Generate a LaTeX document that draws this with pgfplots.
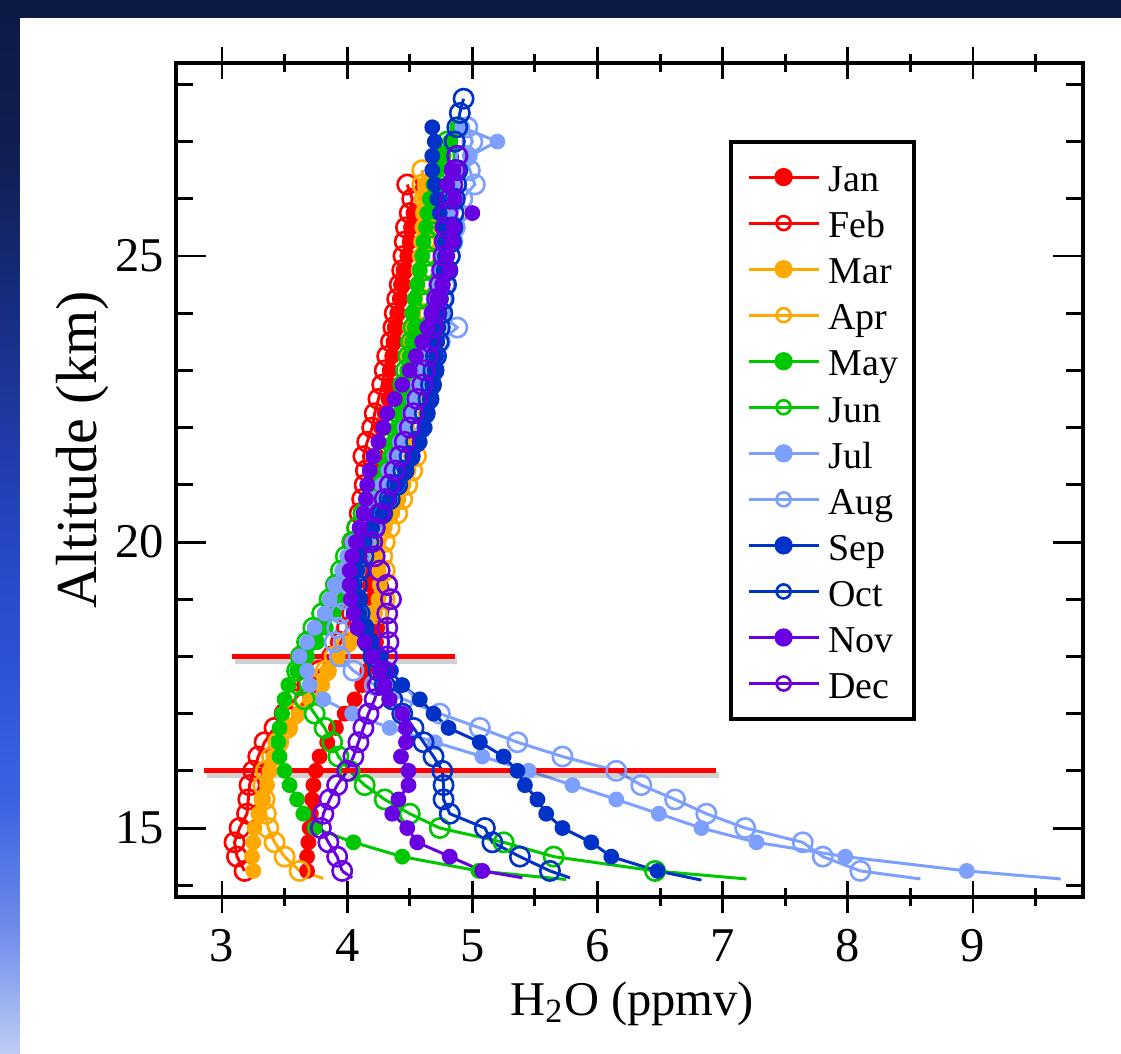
\documentclass[border=0pt]{standalone}
\usepackage{pgfplots}
\pgfplotsset{compat=1.18}
\usepackage{pgfplotstable}
\usepackage{fontspec}
\setmainfont{Liberation Serif}

\definecolor{cJan}{RGB}{255,0,0}
\definecolor{cMar}{RGB}{255,168,0}
\definecolor{cMay}{RGB}{0,200,0}
\definecolor{cJul}{RGB}{125,160,255}
\definecolor{cSep}{RGB}{0,50,200}
\definecolor{cNov}{RGB}{105,0,225}
\definecolor{navy}{RGB}{14,26,70}
\definecolor{bA}{RGB}{16,30,80}
\definecolor{bB}{RGB}{22,42,120}
\definecolor{bC}{RGB}{30,56,160}
\definecolor{bD}{RGB}{38,70,195}
\definecolor{bE}{RGB}{46,82,215}
\definecolor{bF}{RGB}{60,98,228}
\definecolor{bG}{RGB}{110,140,235}
\definecolor{bH}{RGB}{190,205,244}

\pgfplotstableread{
alt   jan  feb  mar  apr  may  jun  jul  aug  sep  oct  nov  dec
14.25 3.68 3.18 3.25 3.62 5.05 6.46 8.95 8.10 6.48 5.62 5.08 3.96
14.50 3.68 3.12 3.24 3.50 4.44 5.65 7.98 7.80 6.11 5.38 4.82 3.92
14.75 3.69 3.10 3.25 3.42 4.05 5.25 7.27 7.64 5.95 5.16 4.56 3.85
15.00 3.70 3.14 3.26 3.37 3.74 4.74 6.83 7.18 5.72 5.10 4.48 3.79
15.25 3.71 3.20 3.29 3.35 3.65 4.50 6.49 6.87 5.59 4.82 4.36 3.81
15.50 3.72 3.21 3.33 3.34 3.60 4.30 6.15 6.62 5.52 4.77 4.41 3.86
15.75 3.73 3.22 3.36 3.33 3.54 4.14 5.80 6.35 5.42 4.77 4.49 3.92
16.00 3.75 3.25 3.38 3.35 3.50 4.02 5.45 6.15 5.36 4.76 4.49 4.00
16.25 3.78 3.29 3.41 3.40 3.46 3.93 5.08 5.72 5.25 4.69 4.43 4.05
16.50 3.84 3.34 3.46 3.45 3.45 3.88 4.70 5.36 5.06 4.61 4.47 4.09
16.75 3.91 3.42 3.54 3.52 3.46 3.82 4.34 5.06 4.81 4.53 4.47 4.13
17.00 3.98 3.50 3.61 3.58 3.48 3.74 4.04 4.74 4.69 4.44 4.44 4.17
17.25 4.06 3.58 3.70 3.66 3.50 3.66 3.81 4.45 4.58 4.36 4.34 4.22
17.50 4.12 3.68 3.80 3.75 3.53 3.62 3.70 4.22 4.44 4.30 4.30 4.25
17.75 4.16 3.78 3.84 3.83 3.60 3.60 3.68 4.05 4.35 4.25 4.26 4.29
18.00 4.20 3.88 3.92 3.90 3.68 3.63 3.62 3.94 4.27 4.21 4.20 4.32
18.25 4.23 3.95 4.02 4.00 3.76 3.68 3.68 3.90 4.20 4.17 4.14 4.33
18.50 4.24 4.00 4.14 4.12 3.83 3.73 3.74 3.92 4.14 4.13 4.08 4.32
18.75 4.22 4.04 4.22 4.24 3.89 3.80 3.82 3.95 4.10 4.10 4.05 4.32
19.00 4.20 4.06 4.25 4.30 3.93 3.86 3.86 3.98 4.08 4.08 4.03 4.35
19.25 4.18 4.07 4.26 4.32 3.96 3.91 3.90 4.02 4.06 4.08 4.02 4.32
19.50 4.16 4.06 4.25 4.30 3.98 3.95 3.96 4.06 4.08 4.10 4.02 4.26
19.75 4.14 4.05 4.22 4.28 4.02 3.99 4.00 4.10 4.10 4.13 4.04 4.22
20.00 4.13 4.06 4.24 4.30 4.06 4.04 4.04 4.14 4.14 4.17 4.07 4.20
20.25 4.14 4.08 4.30 4.34 4.10 4.08 4.10 4.20 4.20 4.22 4.10 4.22
20.50 4.16 4.10 4.36 4.40 4.15 4.13 4.16 4.26 4.28 4.28 4.13 4.26
20.75 4.18 4.12 4.41 4.44 4.20 4.18 4.22 4.32 4.34 4.34 4.15 4.30
21.00 4.20 4.14 4.45 4.48 4.25 4.22 4.28 4.38 4.40 4.40 4.16 4.34
21.25 4.22 4.15 4.49 4.52 4.30 4.27 4.33 4.43 4.46 4.45 4.18 4.38
21.50 4.24 4.13 4.51 4.55 4.34 4.31 4.38 4.48 4.52 4.50 4.21 4.42
21.75 4.25 4.16 4.50 4.53 4.37 4.35 4.42 4.52 4.58 4.55 4.25 4.46
22.00 4.27 4.20 4.48 4.50 4.40 4.38 4.46 4.56 4.62 4.59 4.29 4.50
22.25 4.30 4.22 4.47 4.50 4.42 4.41 4.50 4.60 4.64 4.62 4.32 4.53
22.50 4.33 4.25 4.47 4.52 4.44 4.43 4.53 4.63 4.66 4.65 4.38 4.56
22.75 4.34 4.28 4.48 4.53 4.46 4.45 4.56 4.66 4.68 4.67 4.44 4.60
23.00 4.34 4.30 4.48 4.54 4.48 4.47 4.59 4.68 4.70 4.69 4.50 4.62
23.25 4.36 4.32 4.49 4.55 4.50 4.49 4.61 4.70 4.71 4.71 4.55 4.64
23.50 4.37 4.35 4.50 4.56 4.52 4.51 4.63 4.74 4.72 4.73 4.60 4.66
23.75 4.38 4.37 4.50 4.57 4.54 4.53 4.65 4.88 4.73 4.74 4.64 4.68
24.00 4.40 4.38 4.52 4.58 4.52 4.55 4.67 4.74 4.74 4.76 4.68 4.70
24.25 4.42 4.40 4.54 4.59 4.54 4.57 4.69 4.76 4.75 4.77 4.72 4.72
24.50 4.43 4.42 4.56 4.60 4.56 4.59 4.71 4.78 4.76 4.79 4.76 4.74
24.75 4.45 4.44 4.57 4.61 4.58 4.61 4.73 4.80 4.77 4.80 4.82 4.76
25.00 4.48 4.45 4.58 4.62 4.60 4.63 4.75 4.82 4.78 4.82 4.80 4.77
25.25 4.50 4.46 4.59 4.62 4.61 4.65 4.77 4.84 4.78 4.83 4.84 4.78
25.50 4.51 4.47 4.60 4.63 4.63 4.67 4.78 4.86 4.76 4.84 4.85 4.79
25.75 4.53 4.50 4.61 4.63 4.64 4.69 4.80 4.88 4.74 4.85 5.00 4.80
26.00 nan  4.52 4.62 4.62 4.66 4.71 4.82 4.92 4.72 4.86 4.86 4.82
26.25 nan  4.48 4.62 4.60 4.69 4.73 4.84 5.02 4.70 4.87 4.80 4.84
26.50 nan  nan  nan  4.60 4.72 4.75 4.88 4.98 4.68 4.88 4.85 4.86
26.75 nan  nan  nan  nan  4.77 4.78 4.98 4.95 4.68 4.88 nan  4.88
27.00 nan  nan  nan  nan  4.82 4.80 5.20 5.00 4.70 4.86 nan  nan
27.25 nan  nan  nan  nan  4.88 nan  4.92 4.96 4.68 4.88 nan  nan
27.50 nan  nan  nan  nan  nan  nan  nan  nan  nan  4.90 nan  nan
27.75 nan  nan  nan  nan  nan  nan  nan  nan  nan  4.93 nan  nan
}\wvdata

\pgfplotsset{
  filledser/.style={color=#1, line width=0.85pt, mark=*, mark size=2.05pt,
    mark options={fill=#1, draw=#1, line width=0.4pt},
    legend image post style={mark size=2.4pt}},
  openser/.style={color=#1, line width=0.85pt, mark=o, mark size=2.75pt,
    mark options={line width=0.75pt},
    legend image post style={mark size=2.0pt}},
  tailser/.style={color=#1, line width=0.85pt, no marks, forget plot},
}

\begin{document}
\begin{tikzpicture}
\useasboundingbox (0,0) rectangle (11.21,10.53);
\fill[navy] (0,0) rectangle (11.21,10.53);
% left strip of the slide background, banded from dark to light
\shade[top color=navy, bottom color=bA] (0,9.03) rectangle (0.20,10.36);
\shade[top color=bA, bottom color=bB] (0,7.73) rectangle (0.20,9.04);
\shade[top color=bB, bottom color=bC] (0,6.43) rectangle (0.20,7.74);
\shade[top color=bC, bottom color=bD] (0,5.13) rectangle (0.20,6.44);
\shade[top color=bD, bottom color=bE] (0,3.83) rectangle (0.20,5.14);
\shade[top color=bE, bottom color=bF] (0,2.53) rectangle (0.20,3.84);
\shade[top color=bF, bottom color=bG] (0,1.23) rectangle (0.20,2.54);
\shade[top color=bG, bottom color=bH] (0,0) rectangle (0.20,1.24);
\fill[white] (0.20,0) rectangle (11.21,10.35);

\begin{axis}[
  at={(1.76cm,1.56cm)}, anchor=south west,
  scale only axis, width=9.07cm, height=8.34cm,
  xmin=2.6325, xmax=9.879, ymin=13.794, ymax=28.374,
  axis line style={line width=1.1pt},
  xtick={3,4,...,9}, minor xtick={3.5,4.5,...,9.5},
  ytick=\empty,
  tick align=center, xtick pos=both,
  major tick length=3.2mm, minor tick length=1.8mm,
  tick style={black, line width=0.85pt},
  /pgf/number format/assume math mode=true,
  xticklabel style={font=\fontsize{13.8}{16}\selectfont, anchor=base, yshift=-4.8mm},
  xlabel={H\textsubscript{2}O (ppmv)},
  xlabel style={font=\fontsize{13.8}{16}\selectfont, at={(axis description cs:0.503,0)}, anchor=base, yshift=-11.8mm},
  legend cell align=left,
  legend image code/.code={\draw[mark repeat=2,mark phase=2,#1] plot coordinates {(0cm,0cm) (0.35cm,0cm) (0.7cm,0cm)};},
  legend style={at={(rel axis cs:0.6097,0.9077)}, anchor=north west, draw=black, line width=1.1pt, fill=white,
    font=\fontsize{10.8}{13}\selectfont, inner xsep=4.6pt, inner ysep=5.5pt, row sep=4.1pt, column sep=2.4pt,
    nodes={inner sep=0pt, text height=8.7pt, text depth=0.3pt}},
]
\addplot[filledser=cJan] table[x=jan, y=alt] {\wvdata};
\addlegendentry{Jan}
\addplot[openser=cJan] table[x=feb, y=alt] {\wvdata};
\addlegendentry{Feb}
\addplot[filledser=cMar] table[x=mar, y=alt] {\wvdata};
\addlegendentry{Mar}
\addplot[openser=cMar] table[x=apr, y=alt] {\wvdata};
\addlegendentry{Apr}
\addplot[tailser=cMar] coordinates {(3.62,14.25) (3.81,14.12)};
\addplot[filledser=cMay] table[x=may, y=alt] {\wvdata};
\addlegendentry{May}
\addplot[tailser=cMay] coordinates {(5.05,14.25) (5.75,14.10)};
\addplot[openser=cMay] table[x=jun, y=alt] {\wvdata};
\addlegendentry{Jun}
\addplot[tailser=cMay] coordinates {(6.46,14.25) (7.19,14.11)};
\addplot[filledser=cJul] table[x=jul, y=alt] {\wvdata};
\addlegendentry{Jul}
\addplot[tailser=cJul] coordinates {(8.95,14.25) (9.70,14.11)};
\addplot[openser=cJul] table[x=aug, y=alt] {\wvdata};
\addlegendentry{Aug}
\addplot[tailser=cJul] coordinates {(8.10,14.25) (8.58,14.11)};
\addplot[filledser=cSep] table[x=sep, y=alt] {\wvdata};
\addlegendentry{Sep}
\addplot[tailser=cSep] coordinates {(6.48,14.25) (6.83,14.09)};
\addplot[openser=cSep] table[x=oct, y=alt] {\wvdata};
\addlegendentry{Oct}
\addplot[tailser=cSep] coordinates {(5.62,14.25) (5.78,14.13)};
\addplot[filledser=cNov] table[x=nov, y=alt] {\wvdata};
\addlegendentry{Nov}
\addplot[tailser=cNov] coordinates {(5.08,14.25) (5.40,14.13)};
\addplot[openser=cNov] table[x=dec, y=alt] {\wvdata};
\addlegendentry{Dec}
\addplot[tailser=cNov] coordinates {(3.96,14.25) (4.04,14.13)};
% annotation lines
\addplot[black, opacity=0.18, line width=1.8pt, no marks, forget plot] coordinates {(3.10,17.93) (4.88,17.93)};
\addplot[black, opacity=0.18, line width=1.8pt, no marks, forget plot] coordinates {(2.88,15.93) (6.97,15.93)};
\addplot[red, line width=1.4pt, no marks, forget plot] coordinates {(3.08,18) (4.86,18)};
\addplot[red, line width=1.4pt, no marks, forget plot] coordinates {(2.86,16) (6.95,16)};
\end{axis}

\begin{axis}[
  at={(1.76cm,1.56cm)}, anchor=south west,
  scale only axis, width=9.07cm, height=8.34cm,
  xmin=2.6325, xmax=9.879, ymin=13.794, ymax=28.374,
  axis line style={line width=1.1pt},
  xtick=\empty,
  ytick={15,20,25}, minor ytick={14,16,17,18,19,21,22,23,24,26,27,28},
  tick align=inside, ytick pos=both,
  major tick length=3.0mm, minor tick length=1.7mm,
  tick style={black, line width=0.85pt},
  /pgf/number format/assume math mode=true,
  yticklabel style={font=\fontsize{13.8}{16}\selectfont},
  ylabel={Altitude (km)},
  ylabel style={font=\fontsize{16.5}{19}\selectfont, at={(axis description cs:-0.0875,0.536)}, anchor=base},
]
\end{axis}
\end{tikzpicture}
\end{document}
